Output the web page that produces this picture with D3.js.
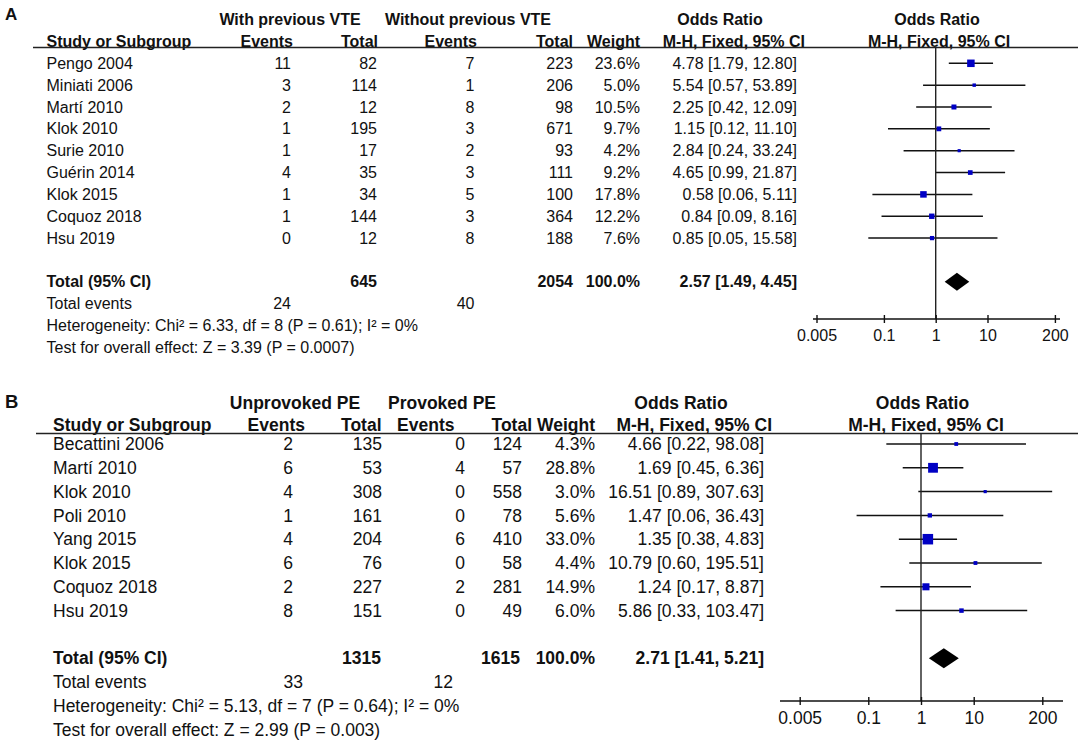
<!DOCTYPE html>
<html>
<head>
<meta charset="utf-8">
<script src="https://cdn.jsdelivr.net/npm/d3@7"></script>
<style>
  body { margin: 0; background: #fff; }
  svg { display: block; }
  text { font-family: "Liberation Sans", Arial, Helvetica, sans-serif; fill: #111; }
</style>
</head>
<body>
<svg width="1084" height="745"></svg>
<script>
// panel A: with vs without previous VTE
var studiesA = ["Pengo 2004", "Miniati 2006", "Martí 2010", "Klok 2010", "Surie 2010", "Guérin 2014", "Klok 2015", "Coquoz 2018", "Hsu 2019"];
var eventsA1 = [11, 3, 2, 1, 1, 4, 1, 1, 0];
var totalA1 = [82, 114, 12, 195, 17, 35, 34, 144, 12];
var eventsA2 = [7, 1, 8, 3, 2, 3, 5, 3, 8];
var totalA2 = [223, 206, 98, 671, 93, 111, 100, 364, 188];
var weightA = [23.6, 5.0, 10.5, 9.7, 4.2, 9.2, 17.8, 12.2, 7.6];
var orA = [4.78, 5.54, 2.25, 1.15, 2.84, 4.65, 0.58, 0.84, 0.85];
var lowA = [1.79, 0.57, 0.42, 0.12, 0.24, 0.99, 0.06, 0.09, 0.05];
var highA = [12.80, 53.89, 12.09, 11.10, 33.24, 21.87, 5.11, 8.16, 15.58];
var totalsA = { n1: 645, n2: 2054, ev1: 24, ev2: 40, or: 2.57, low: 1.49, high: 4.45 };
var hetA = "Heterogeneity: Chi² = 6.33, df = 8 (P = 0.61); I² = 0%";
var testA = "Test for overall effect: Z = 3.39 (P = 0.0007)";

// panel B: unprovoked vs provoked PE
var studiesB = ["Becattini 2006", "Martí 2010", "Klok 2010", "Poli 2010", "Yang 2015", "Klok 2015", "Coquoz 2018", "Hsu 2019"];
var eventsB1 = [2, 6, 4, 1, 4, 6, 2, 8];
var totalB1 = [135, 53, 308, 161, 204, 76, 227, 151];
var eventsB2 = [0, 4, 0, 0, 6, 0, 2, 0];
var totalB2 = [124, 57, 558, 78, 410, 58, 281, 49];
var weightB = [4.3, 28.8, 3.0, 5.6, 33.0, 4.4, 14.9, 6.0];
var orB = [4.66, 1.69, 16.51, 1.47, 1.35, 10.79, 1.24, 5.86];
var lowB = [0.22, 0.45, 0.89, 0.06, 0.38, 0.60, 0.17, 0.33];
var highB = [98.08, 6.36, 307.63, 36.43, 4.83, 195.51, 8.87, 103.47];
var totalsB = { n1: 1315, n2: 1615, ev1: 33, ev2: 12, or: 2.71, low: 1.41, high: 5.21 };
var hetB = "Heterogeneity: Chi² = 5.13, df = 7 (P = 0.64); I² = 0%";
var testB = "Test for overall effect: Z = 2.99 (P = 0.003)";

var tickValues = [0.005, 0.1, 1, 10, 200];

var svg = d3.select("svg");
var f2 = d3.format(".2f");
var ciText = function (o, l, h) { return f2(o) + " [" + f2(l) + ", " + f2(h) + "]"; };

var drawPanel = function (p) {
  var g = svg.append("g").style("font-size", p.font + "px");
  var rows = p.studies.map(function (s, i) {
    return { name: s, e1: p.e1[i], n1: p.n1[i], e2: p.e2[i], n2: p.n2[i], w: p.w[i], or: p.or[i], lo: p.lo[i], hi: p.hi[i] };
  });

  var y = d3.scaleLinear().domain([0, 1]).range([p.rowY, p.rowY + p.rowH]);
  var x = d3.scaleLog().domain([0.005, 200]).range(p.plotX);
  var size = d3.scaleSqrt().domain([0, d3.max(p.w)]).range([0, p.maxBox]);

  var txt = function (str, tx, ty, anchor, bold) {
    return g.append("text")
      .attr("x", tx).attr("y", ty).attr("dy", "0.35em")
      .attr("text-anchor", anchor)
      .style("font-weight", bold ? "bold" : null)
      .text(str);
  };

  // panel letter
  txt(p.letter, 5, p.letterY, "start", true).style("font-size", (p.font + 1) + "px");

  // headers
  var c = p.cols;
  txt(p.group1, c.g1, p.headY1, "middle", true);
  txt(p.group2, c.g2, p.headY1, "middle", true);
  txt("Odds Ratio", c.orHead, p.headY1, "middle", true);
  txt("Odds Ratio", c.plotHead, p.headY1, "middle", true);
  txt("Study or Subgroup", c.name, p.headY2, "start", true);
  txt("Events", c.he1, p.headY2, "end", true);
  txt("Total", c.hn1, p.headY2, "end", true);
  txt("Events", c.he2, p.headY2, "end", true);
  txt("Total", c.hn2, p.headY2, "end", true);
  txt("Weight", c.w, p.headY2, "end", true);
  txt("M-H, Fixed, 95% CI", c.orHead2, p.headY2, "end", true);
  txt("M-H, Fixed, 95% CI", c.plotHead2, p.headY2, "middle", true);

  g.append("line")
    .attr("x1", p.lineX[0]).attr("x2", p.lineX[1])
    .attr("y1", p.lineY).attr("y2", p.lineY)
    .attr("stroke", "#222").attr("stroke-width", 1.4);

  // study rows
  var row = g.selectAll(".row")
    .data(rows)
    .enter().append("g")
    .attr("class", "row")
    .attr("transform", function (d, i) { return "translate(0," + y(i) + ")"; });

  var cell = function (key, cx, anchor) {
    row.append("text")
      .attr("x", cx).attr("dy", "0.35em")
      .attr("text-anchor", anchor)
      .text(key);
  };
  cell(function (d) { return d.name; }, c.name, "start");
  cell(function (d) { return d.e1; }, c.e1, "end");
  cell(function (d) { return d.n1; }, c.n1, "end");
  cell(function (d) { return d.e2; }, c.e2, "end");
  cell(function (d) { return d.n2; }, c.n2, "end");
  cell(function (d) { return d.w.toFixed(1) + "%"; }, c.w, "end");
  cell(function (d) { return ciText(d.or, d.lo, d.hi); }, c.or, "end");

  // null line
  g.append("line")
    .attr("x1", x(1)).attr("x2", x(1))
    .attr("y1", p.lineY).attr("y2", p.axisY)
    .attr("stroke", "#222").attr("stroke-width", 1.4);

  row.append("line")
    .attr("x1", function (d) { return x(d.lo); })
    .attr("x2", function (d) { return x(d.hi); })
    .attr("stroke", "#111").attr("stroke-width", 1.5);

  row.append("rect")
    .attr("x", function (d) { return x(d.or) - size(d.w) / 2; })
    .attr("y", function (d) { return -size(d.w) / 2; })
    .attr("width", function (d) { return size(d.w); })
    .attr("height", function (d) { return size(d.w); })
    .attr("fill", "#0000c4");

  // totals
  var t = p.totals;
  var n = rows.length;
  var ty = y(n + 1);
  txt("Total (95% CI)", c.name, ty, "start", true);
  txt(t.n1, c.tn1, ty, "end", true);
  txt(t.n2, c.tn2, ty, "end", true);
  txt("100.0%", c.w, ty, "end", true);
  txt(ciText(t.or, t.low, t.high), c.or, ty, "end", true);

  var dh = p.diamondH;
  g.append("path")
    .attr("d", "M" + x(t.low) + "," + ty +
      "L" + x(t.or) + "," + (ty - dh) +
      "L" + x(t.high) + "," + ty +
      "L" + x(t.or) + "," + (ty + dh) + "Z")
    .attr("fill", "#000");

  txt("Total events", c.name, y(n + 2), "start", false);
  txt(t.ev1, c.te1, y(n + 2), "end", false);
  txt(t.ev2, c.te2, y(n + 2), "end", false);
  txt(p.het, c.name, y(n + 3), "start", false);
  txt(p.test, c.name, y(n + 4), "start", false);

  // axis
  var ax = g.append("g")
    .attr("transform", "translate(0," + p.axisY + ")")
    .call(d3.axisBottom(x).tickValues(tickValues).tickFormat(d3.format("~g")).tickSizeOuter(0));
  ax.select(".domain").remove();
  ax.selectAll("line").attr("y1", -4).attr("y2", 4).attr("stroke", "#111").attr("stroke-width", 1.4);
  ax.selectAll("text").attr("y", 11).style("font-size", p.font + "px").attr("fill", "#111");
  ax.style("font-family", null);
  g.append("line")
    .attr("x1", p.axisX[0]).attr("x2", p.axisX[1])
    .attr("y1", p.axisY).attr("y2", p.axisY)
    .attr("stroke", "#111").attr("stroke-width", 1.4);
};

drawPanel({
  letter: "A", letterY: 14, font: 16,
  studies: studiesA, e1: eventsA1, n1: totalA1, e2: eventsA2, n2: totalA2,
  w: weightA, or: orA, lo: lowA, hi: highA, totals: totalsA, het: hetA, test: testA,
  group1: "With previous VTE", group2: "Without previous VTE",
  headY1: 19, headY2: 41, lineY: 47.5, lineX: [33, 1078],
  rowY: 63.3, rowH: 21.85,
  plotX: [816.5, 1054.9], axisY: 319, axisX: [813, 1060],
  maxBox: 7.5, diamondH: 9,
  cols: {
    g1: 290, g2: 468, orHead: 720, plotHead: 937,
    name: 46.5, he1: 293, hn1: 378, he2: 477, hn2: 573, w: 640, orHead2: 805, plotHead2: 939,
    e1: 291, n1: 377, e2: 474.5, n2: 573, or: 797,
    tn1: 377, tn2: 573, te1: 291, te2: 474.5
  }
});

drawPanel({
  letter: "B", letterY: 402, font: 17.5,
  studies: studiesB, e1: eventsB1, n1: totalB1, e2: eventsB2, n2: totalB2,
  w: weightB, or: orB, lo: lowB, hi: highB, totals: totalsB, het: hetB, test: testB,
  group1: "Unprovoked PE", group2: "Provoked PE",
  headY1: 403, headY2: 425, lineY: 433.5, lineX: [36, 1078],
  rowY: 444, rowH: 23.8,
  plotX: [799.7, 1042.3], axisY: 701, axisX: [780, 1063],
  maxBox: 10.5, diamondH: 10,
  cols: {
    g1: 295, g2: 442, orHead: 681, plotHead: 922.5,
    name: 53, he1: 305, hn1: 381.5, he2: 454.5, hn2: 532, w: 595, orHead2: 772, plotHead2: 926,
    e1: 293, n1: 382, e2: 465, n2: 522, or: 764,
    tn1: 381, tn2: 520, te1: 303, te2: 453
  }
});
</script>
</body>
</html>
